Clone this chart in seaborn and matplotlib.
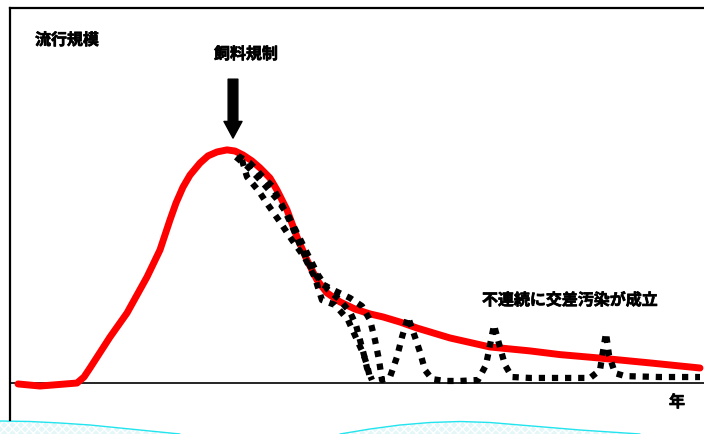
import matplotlib
matplotlib.use("Agg")
import matplotlib.pyplot as plt
import matplotlib.patheffects as pe
import seaborn as sns

sns.set_theme(style="white")
plt.rcParams['font.family'] = ['Noto Sans CJK JP', 'DejaVu Sans']
plt.rcParams['hatch.color'] = '#c5ecf0'

# ---- data (years, epidemic size; peak = 100) ----
red_x = [0.4, 1.5, 2.5, 3.35, 3.7, 4.0, 4.5, 5.0, 5.85, 6.85, 7.5, 8.0, 8.3, 8.65, 9.0,
         9.5, 9.9, 10.35, 10.85, 11.25, 11.65, 12.1, 12.5, 13.0, 13.35, 13.85, 14.35,
         14.85, 15.35, 15.85, 16.5, 17.25, 18.0, 18.65, 19.5, 20.35, 22.0, 24.0, 26.0,
         27.5, 29.5, 32.0, 34.5]
red_y = [-0.4, -1.3, -0.6, 0.0, 2.6, 6.5, 13.2, 19.9, 30.3, 45.9, 57.6, 70.6, 77.9, 84.8,
         90.0, 95.2, 98.3, 100, 100.9, 100.4, 98.7, 96.1, 93.1, 88.7, 83.5, 74.9, 63.2,
         53.2, 44.6, 39.0, 35.1, 32.0, 29.9, 28.6, 26.4, 23.8, 19.5, 15.6, 13.9,
         12.3, 10.8, 8.7, 6.5]

obs1_x = [11.4, 12.0, 12.6, 13.1, 13.6, 14.1, 14.5, 15.0, 15.6, 16.15, 17.0, 17.6, 18.0,
          18.25, 18.45, 18.6, 19.0, 19.35, 19.6, 19.9, 20.25, 20.5, 20.75, 21.1, 21.75,
          22.5, 23.4, 23.8, 24.05, 24.2, 24.4, 24.75, 25.1, 26.0, 27.5, 29.0, 29.5, 29.7,
          29.8, 29.95, 30.25, 30.75, 32.5, 34.5]
obs1_y = [98.3, 95.2, 89.6, 85.3, 77.1, 68.0, 59.7, 50.6, 42.9, 40.3, 36.8, 33.3, 27.3,
          18.6, 10.0, 1.3, 2.6, 11.3, 19.9, 28.6, 19.9, 13.4, 5.6, 1.7, 0.9,
          0.9, 1.3, 7.8, 18.6, 25.1, 18.6, 7.8, 2.6, 2.2, 2.2, 2.2, 5.6, 16.5,
          21.6, 12.1, 4.3, 3.0, 2.6, 2.6]

obs2_x = [11.6, 11.85, 12.4, 12.9, 13.5, 14.1, 14.75, 15.25, 15.6, 16.25, 16.9, 17.4,
          17.65, 17.85, 18.0]
obs2_y = [96.5, 89.2, 83.5, 77.1, 69.7, 61.9, 54.1, 45.5, 35.9, 33.8, 27.3, 17.7,
          13.0, 7.8, 2.2]

obs3_x = [11.3, 11.9, 12.6, 13.3, 13.9, 14.4, 14.9, 15.4, 15.9, 16.5, 17.0, 17.3, 17.5,
          17.7, 17.85, 18.1]
obs3_y = [97.8, 93.5, 87.0, 80.1, 72.7, 64.1, 55.4, 46.8, 40.3, 35.9, 30.7, 25.1, 18.6,
          12.1, 6.5, 1.3]

# decorative wave bands at the bottom (figure pixels)
wave1_x = [0, 30, 60, 90, 120, 150, 180]
wave1_y = [421, 421.5, 423, 425, 428, 431, 434]
wave2_x = [340, 370, 400, 430, 460, 490, 520, 550, 580, 610, 640]
wave2_y = [434, 429, 425, 422.5, 421.5, 422.5, 425, 427.5, 430, 432, 434]

fig = plt.figure(figsize=(7.04, 4.34), dpi=100)

# background decoration
bg = fig.add_axes([0, 0, 1, 1], zorder=0)
bg.set_xlim(0, 704)
bg.set_ylim(434, 0)
bg.axis('off')
for wx, wy in ((wave1_x, wave1_y), (wave2_x, wave2_y)):
    bg.fill_between(wx, wy, 434, facecolor='#e3f6f8', edgecolor='none', hatch='xxxx')
    bg.plot(wx, wy, color='#22e4ee', lw=1.0)

ax = fig.add_axes([10 / 704, 14 / 434, 700 / 704, 412 / 434], zorder=1)
ax.patch.set_alpha(0)
ax.set_xlim(0, 35)
ax.set_ylim(-16.0, 162.3)
for s in ('right', 'bottom'):
    ax.spines[s].set_visible(False)
for s in ('left', 'top'):
    ax.spines[s].set_visible(True)
    ax.spines[s].set_color('black')
    ax.spines[s].set_linewidth(1.6)
ax.set_xticks([])
ax.set_yticks([])
ax.axhline(0, color='black', lw=1.2, zorder=1)

dot = (0, (1.0, 1.1))
for ox, oy in ((obs3_x, obs3_y), (obs2_x, obs2_y), (obs1_x, obs1_y)):
    sns.lineplot(x=ox, y=oy, ax=ax, color='black', lw=4.5, linestyle=dot,
                 sort=False, estimator=None, zorder=3)
    ax.lines[-1].set_dash_capstyle('butt')

sns.lineplot(x=red_x, y=red_y, ax=ax, color='#ff0000', lw=5.0, sort=False,
             estimator=None, zorder=2)
ax.lines[-1].set_solid_joinstyle('round')
ax.lines[-1].set_solid_capstyle('round')
ax.set_xlabel('')
ax.set_ylabel('')

# arrow
ax.annotate('', xy=(11.15, 106.0), xytext=(11.15, 131.5),
            arrowprops=dict(facecolor='black', edgecolor='black', width=7,
                            headwidth=13, headlength=12, shrink=0))

stroke = [pe.withStroke(linewidth=0.5, foreground='black')]
tkw = dict(fontsize=11.5, fontweight='bold', color='black', path_effects=stroke)
ax.text(1.25, 148.5, '流行規模', ha='left', va='center', **tkw)
ax.text(11.8, 142.4, '飼料規制', ha='center', va='center', **tkw)
ax.text(23.6, 35.9, '不連続に交差汚染が成立', ha='left', va='center', **tkw)
ax.text(33.35, -8.2, '年', ha='center', va='center', **tkw)

fig.savefig('out.png', dpi=100)
